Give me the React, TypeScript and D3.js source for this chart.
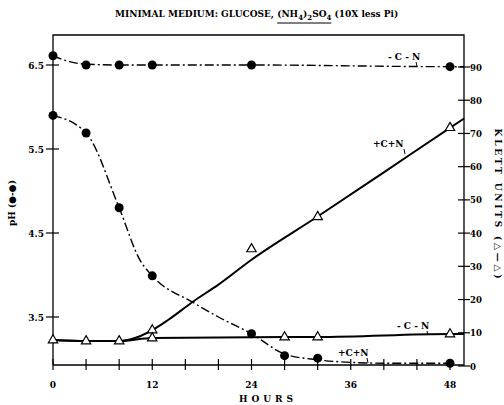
import React, { useEffect, useRef } from 'react';
import * as d3 from 'd3';

const PH_PLUS_HOURS = [0, 4, 8, 12, 24, 28, 32, 48];
const PH_PLUS = [5.9, 5.69, 4.8, 3.99, 3.3, 3.04, 3.01, 2.95];
const PH_MINUS_HOURS = [0, 4, 8, 12, 24, 48];
const PH_MINUS = [6.61, 6.5, 6.5, 6.5, 6.5, 6.48];
const KLETT_PLUS_HOURS = [0, 4, 8, 12, 24, 32, 48];
const KLETT_PLUS = [7.8, 7.5, 7.5, 10.8, 35.2, 44.9, 71.7];
const KLETT_MINUS_HOURS = [12, 28, 32, 48];
const KLETT_MINUS = [8.4, 8.7, 8.7, 9.6];

// hand drawn curves through the points
const PH_PLUS_CURVE_HOURS = [0, 4, 8, 10.5, 12, 17, 20, 24, 28, 32, 36, 40, 48];
const PH_PLUS_CURVE = [5.9, 5.69, 4.8, 4.18, 3.99, 3.67, 3.5, 3.3, 3.06, 2.99, 2.96, 2.95, 2.95];
const PH_MINUS_CURVE_HOURS = [0, 2, 4, 8, 12, 24, 48, 49.7];
const PH_MINUS_CURVE = [6.61, 6.54, 6.51, 6.5, 6.5, 6.5, 6.48, 6.48];
const KLETT_PLUS_CURVE_HOURS = [0, 4, 8, 10, 12, 14, 17, 20, 24, 32, 40, 48, 49.7];
const KLETT_PLUS_CURVE = [7.8, 7.5, 7.5, 8.5, 10.8, 14, 19.5, 24.5, 32, 45, 58.3, 71.7, 74.5];
const KLETT_MINUS_CURVE_HOURS = [0, 4, 8, 12, 28, 32, 48, 49.7];
const KLETT_MINUS_CURVE = [7.8, 7.5, 7.5, 8.4, 8.7, 8.7, 9.6, 9.6];

const HOUR_TICKS = [0, 4, 8, 12, 16, 20, 24, 28, 32, 36, 40, 44, 48];
const HOUR_LABELS = [0, 12, 24, 36, 48];
const PH_TICKS = [3.5, 4.5, 5.5, 6.5];
const KLETT_TICKS = [0, 10, 20, 30, 40, 50, 60, 70, 80, 90];

const FONT = '"DejaVu Serif", "Liberation Serif", serif';

const App = () => {
  const svgRef = useRef<SVGSVGElement>(null);

  useEffect(() => {
    const W = 504;
    const H = 405;
    const left = 53;
    const right = 464;
    const top = 35;
    const bottom = 365;

    const x = d3.scaleLinear().domain([0, 48]).range([left, 450]);
    const yPh = d3.scaleLinear().domain([3.5, 6.5]).range([317, 65]);
    const yK = d3.scaleLinear().domain([0, 90]).range([366, 67]);

    const svg = d3.select(svgRef.current).attr('width', W).attr('height', H);
    svg.selectAll('*').remove();
    svg.append('rect').attr('width', W).attr('height', H).attr('fill', '#fff');

    const g = svg.append('g').attr('font-family', FONT).attr('font-weight', 'bold');

    // frame
    g.append('path')
      .attr('d', `M${left},${bottom}V${top}H${right}V${bottom}H${left}`)
      .attr('fill', 'none')
      .attr('stroke', '#000')
      .attr('stroke-width', 1.3);

    // hour ticks
    g.selectAll('.xt')
      .data(HOUR_TICKS)
      .enter()
      .append('line')
      .attr('x1', (d) => x(d))
      .attr('x2', (d) => x(d))
      .attr('y1', bottom - 6)
      .attr('y2', bottom + 5)
      .attr('stroke', '#000')
      .attr('stroke-width', 1.2);
    g.selectAll('.xl')
      .data(HOUR_LABELS)
      .enter()
      .append('text')
      .attr('x', (d) => x(d))
      .attr('y', 388)
      .attr('text-anchor', 'middle')
      .attr('font-size', 9)
      .text((d) => d);

    // pH ticks
    g.selectAll('.pt')
      .data(PH_TICKS)
      .enter()
      .append('line')
      .attr('x1', left - 7)
      .attr('x2', left + 6)
      .attr('y1', (d) => yPh(d))
      .attr('y2', (d) => yPh(d))
      .attr('stroke', '#000')
      .attr('stroke-width', 1.2);
    g.selectAll('.pl')
      .data(PH_TICKS)
      .enter()
      .append('text')
      .attr('x', 44)
      .attr('y', (d) => yPh(d) + 3.5)
      .attr('text-anchor', 'end')
      .attr('font-size', 9)
      .text((d) => d.toFixed(1));

    // klett ticks
    g.selectAll('.kt')
      .data(KLETT_TICKS)
      .enter()
      .append('line')
      .attr('x1', right - 6)
      .attr('x2', right + 6)
      .attr('y1', (d) => yK(d))
      .attr('y2', (d) => yK(d))
      .attr('stroke', '#000')
      .attr('stroke-width', 1.2);
    g.selectAll('.kl')
      .data(KLETT_TICKS)
      .enter()
      .append('text')
      .attr('x', 470)
      .attr('y', (d) => yK(d) + 3.5)
      .attr('font-size', 8.5)
      .text((d) => d);

    // curves
    const zip = (hs: number[], vs: number[]) => hs.map((h, i) => [h, vs[i]] as [number, number]);
    const phLine = d3
      .line<[number, number]>()
      .x((d) => x(d[0]))
      .y((d) => yPh(d[1]))
      .curve(d3.curveMonotoneX);
    const kLine = d3
      .line<[number, number]>()
      .x((d) => x(d[0]))
      .y((d) => yK(d[1]))
      .curve(d3.curveMonotoneX);

    const dash = '9,3,2,3';
    g.append('path')
      .attr('d', phLine(zip(PH_MINUS_CURVE_HOURS, PH_MINUS_CURVE)))
      .attr('fill', 'none')
      .attr('stroke', '#000')
      .attr('stroke-width', 1.4)
      .attr('stroke-dasharray', dash);
    g.append('path')
      .attr('d', phLine(zip(PH_PLUS_CURVE_HOURS, PH_PLUS_CURVE)))
      .attr('fill', 'none')
      .attr('stroke', '#000')
      .attr('stroke-width', 1.4)
      .attr('stroke-dasharray', dash);
    g.append('path')
      .attr('d', kLine(zip(KLETT_MINUS_CURVE_HOURS, KLETT_MINUS_CURVE)))
      .attr('fill', 'none')
      .attr('stroke', '#000')
      .attr('stroke-width', 2);
    g.append('path')
      .attr('d', kLine(zip(KLETT_PLUS_CURVE_HOURS, KLETT_PLUS_CURVE)))
      .attr('fill', 'none')
      .attr('stroke', '#000')
      .attr('stroke-width', 2);

    // pH dots
    const dots = zip(PH_MINUS_HOURS, PH_MINUS).concat(zip(PH_PLUS_HOURS, PH_PLUS));
    g.selectAll('.dot')
      .data(dots)
      .enter()
      .append('circle')
      .attr('cx', (d) => x(d[0]))
      .attr('cy', (d) => yPh(d[1]))
      .attr('r', 4.5)
      .attr('fill', '#000');

    // klett triangles
    const tri = d3.symbol().type(d3.symbolTriangle).size(38);
    const tris = zip(KLETT_PLUS_HOURS, KLETT_PLUS).concat(zip(KLETT_MINUS_HOURS, KLETT_MINUS));
    g.selectAll('.tri')
      .data(tris)
      .enter()
      .append('path')
      .attr('d', tri)
      .attr('transform', (d) => `translate(${x(d[0])},${yK(d[1])})`)
      .attr('fill', '#fff')
      .attr('stroke', '#000')
      .attr('stroke-width', 1.2);

    // curve labels with little leaders
    const notes = [
      { t: '- C - N', x: 388, y: 60, lx: 416, ly1: 62, ly2: 66 },
      { t: '+C+N', x: 373, y: 147, lx: 404, ly1: 149, ly2: 154 },
      { t: '- C - N', x: 397, y: 329, lx: 427, ly1: 331, ly2: 335 },
      { t: '+C+N', x: 338, y: 356, lx: 367, ly1: 358, ly2: 363 },
    ];
    notes.forEach((n) => {
      g.append('text').attr('x', n.x).attr('y', n.y).attr('font-size', 9).text(n.t);
      g.append('line')
        .attr('x1', n.lx)
        .attr('x2', n.lx + 1)
        .attr('y1', n.ly1)
        .attr('y2', n.ly2)
        .attr('stroke', '#000')
        .attr('stroke-width', 1);
    });

    // title
    const title = g.append('text').attr('x', 115).attr('y', 17).attr('font-size', 9);
    const head = 'MINIMAL MEDIUM: GLUCOSE, ';
    title.append('tspan').text(head);
    title.append('tspan').text('(NH');
    title.append('tspan').attr('font-size', 7).attr('dy', 3).text('4');
    title.append('tspan').attr('dy', -3).text(')');
    title.append('tspan').attr('font-size', 7).attr('dy', 3).text('2');
    title.append('tspan').attr('dy', -3).text('SO');
    title.append('tspan').attr('font-size', 7).attr('dy', 3).text('4');
    title.append('tspan').attr('dy', -3).text(' (10X less Pi)');
    const tn = title.node() as SVGTextElement;
    const u0 = tn.getStartPositionOfChar(head.length).x;
    const u1 = tn.getEndPositionOfChar(head.length + 8).x;
    g.append('line')
      .attr('x1', u0)
      .attr('x2', u1)
      .attr('y1', 23)
      .attr('y2', 23)
      .attr('stroke', '#000')
      .attr('stroke-width', 1);

    // axis titles
    g.append('text')
      .attr('x', 268)
      .attr('y', 402)
      .attr('text-anchor', 'middle')
      .attr('font-size', 9)
      .attr('letter-spacing', 4)
      .text('HOURS');
    g.append('text')
      .attr('transform', 'translate(15,203) rotate(-90)')
      .attr('text-anchor', 'middle')
      .attr('font-size', 9)
      .text('pH (●-●)');
    g.append('text')
      .attr('transform', 'translate(495,205) rotate(90)')
      .attr('text-anchor', 'middle')
      .attr('font-size', 9)
      .attr('letter-spacing', 2.8)
      .text('KLETT UNITS (△—△)');
  }, []);

  return (
    <svg
      ref={svgRef}
      style={{ position: 'absolute', left: 0, top: 0, display: 'block' }}
    ></svg>
  );
};

export default App;
